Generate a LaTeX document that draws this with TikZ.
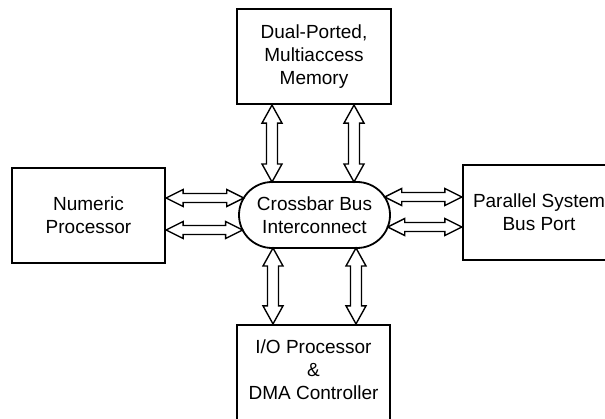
\documentclass[tikz,border=0pt]{standalone}
\usepackage{fontspec}
\setmainfont{Liberation Sans}
\usetikzlibrary{calc,shapes.misc}

% hollow double-headed arrows: #1 first end, #2 second end
\newcommand{\hdarrow}[2]{%
  \draw[arr] let \p1=(#1), \p2=(#2) in
    (\x1,\y1) -- (\x1+17pt,\y1+8.5pt) -- (\x1+17pt,\y1+4.5pt) -- (\x2-17pt,\y1+4.5pt)
    -- (\x2-17pt,\y1+8.5pt) -- (\x2,\y1) -- (\x2-17pt,\y1-8.5pt) -- (\x2-17pt,\y1-4.5pt)
    -- (\x1+17pt,\y1-4.5pt) -- (\x1+17pt,\y1-8.5pt) -- cycle;}
\newcommand{\vdarrow}[2]{%
  \draw[arr] let \p1=(#1), \p2=(#2) in
    (\x1,\y1) -- (\x1+10pt,\y1-18pt) -- (\x1+5.5pt,\y1-18pt) -- (\x1+5.5pt,\y2+18pt)
    -- (\x1+10pt,\y2+18pt) -- (\x1,\y2) -- (\x1-10pt,\y2+18pt) -- (\x1-5.5pt,\y2+18pt)
    -- (\x1-5.5pt,\y1-18pt) -- (\x1-10pt,\y1-18pt) -- cycle;}

\begin{document}
\begin{tikzpicture}[x=1pt,y=1pt,
  unit/.style={draw, line width=2.2pt, rectangle, align=center, inner sep=0pt,
    font=\fontsize{19}{23}\selectfont},
  bus/.style={draw, line width=1.8pt, rounded rectangle, minimum width=151pt,
    minimum height=66pt, inner sep=0pt, align=center, font=\fontsize{19}{23}\selectfont},
  arr/.style={draw, line width=1.4pt, fill=white, line join=miter},
  label/.style={align=center, inner sep=0pt, font=\fontsize{19}{23}\selectfont}]
\useasboundingbox[fill=white] (0,0) rectangle (605,418);

% units
\node[unit, minimum width=154pt, minimum height=95pt] (mem) at (314,361.5)
  {Dual-Ported,\\Multiaccess\\Memory};
\node[unit, minimum width=153pt, minimum height=95pt] (num) at (88.5,202.5)
  {Numeric\\Processor};
\node[unit, minimum width=152pt, minimum height=95pt] (par) at (539,205.5)
  {Parallel System\\Bus Port};
\node[unit, minimum width=153pt, minimum height=100pt] (io) at (313.5,43) {};
\node[label] (iotext) at (313.5,48) {I/O Processor\\\&\\DMA Controller};

% crossbar interconnect
\node[bus] (xbar) at (314.5,203) {Crossbar Bus\\Interconnect};

% ends of the links on the crossbar outline
\coordinate (xl1) at ($(xbar.center)+(-70.8,17)$);
\coordinate (xl2) at ($(xbar.center)+(-71.9,-15)$);
\coordinate (xr1) at ($(xbar.center)+(70.2,18)$);
\coordinate (xr2) at ($(xbar.center)+(73.2,-12)$);
\coordinate (xt1) at (272,236);
\coordinate (xt2) at (354,236);
\coordinate (xb1) at (273,170);
\coordinate (xb2) at (356,170);

% links
\hdarrow{num.east |- xl1}{xl1}
\hdarrow{num.east |- xl2}{xl2}
\hdarrow{xr1}{par.west |- xr1}
\hdarrow{xr2}{par.west |- xr2}
\vdarrow{mem.south -| xt1}{xt1}
\vdarrow{mem.south -| xt2}{xt2}
\vdarrow{xb1}{io.north -| xb1}
\vdarrow{xb2}{io.north -| xb2}
\end{tikzpicture}
\end{document}
